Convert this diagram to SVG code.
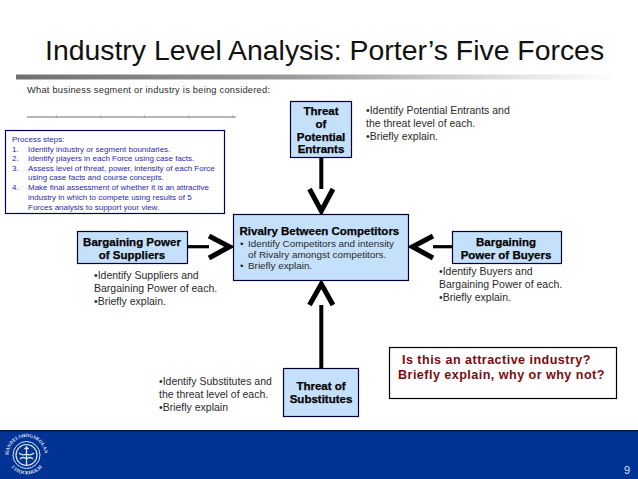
<svg xmlns="http://www.w3.org/2000/svg" xmlns:xlink="http://www.w3.org/1999/xlink" width="638" height="479" viewBox="0 0 638 479">
<style>
text{font-family:"Liberation Sans",Arial,sans-serif;fill:#2a2a2a}
.box{fill:#c4e0fb;stroke:#000033;stroke-width:1.2}
.hd{font-size:11.5px;font-weight:bold;text-anchor:middle;fill:#000;stroke:#000;stroke-width:.25}
.nt{font-size:10.5px}
.rv{font-size:9.9px}
.ps{font-size:8px;fill:#2a2ab0}
.shaft{fill:none;stroke:#000;stroke-width:4}
.shaft-h{fill:none;stroke:#000;stroke-width:3.2}
.head{fill:none;stroke:#000;stroke-width:5}
.q{font-size:12.6px;font-weight:bold;fill:#7a0c10;letter-spacing:.45px}
.lg{font-family:"Liberation Serif",serif;font-weight:bold;font-size:4.8px;fill:#e3e9f5}
</style>
<defs>
<linearGradient id="bar"><stop offset="0" stop-color="#707070"/><stop offset=".45" stop-color="#999"/><stop offset=".8" stop-color="#ddd"/><stop offset="1" stop-color="#fff"/></linearGradient>
<path id="arcTop" d="M8.500 455a18 18 0 0 1 36 0"/>
<path id="arcBot" d="M9 464a20 20 0 0 0 35 0"/>
</defs>
<rect width="638" height="479" fill="#fff"/>
<g id="header">
<text x="45" y="60" font-size="28.400" style="fill:#111">Industry Level Analysis: Porter’s Five Forces</text>
<rect x="16" y="74.500" width="600" height="5" fill="url(#bar)"/>
<text x="27" y="93" font-size="9.300" textLength="243">What business segment or industry is being considered:</text>
<path d="M27 117H236M56.500 115.500v2.500M100.500 115.500v2.500M144.500 115.500v2.500M188.500 115.500v2.500M232.500 115.500v2.500" stroke="#a0a0a0" stroke-width="1.300" fill="none"/>
</g>
<g id="process-steps">
<rect x="5.500" y="130.500" width="219" height="83" fill="#fff" stroke="#000066" stroke-width="1.200"/>
<text class="ps" x="12" y="142">Process steps:</text>
<text class="ps" x="12" y="151.500">1.</text><text class="ps" x="28" y="151.500">Identify industry or segment boundaries.</text>
<text class="ps" x="12" y="161">2.</text><text class="ps" x="28" y="161">Identify players in each Force using case facts.</text>
<text class="ps" x="12" y="170.500">3.</text><text class="ps" x="28" y="170.500">Assess level of threat, power, intensity of each Force</text>
<text class="ps" x="28" y="180">using case facts and course concepts.</text>
<text class="ps" x="12" y="189.500">4.</text><text class="ps" x="28" y="189.500">Make final assessment of whether it is an attractive</text>
<text class="ps" x="28" y="199.500">industry in which to compete using results of 5</text>
<text class="ps" x="28" y="209.500">Forces analysis to support your view.</text>
</g>
<g id="connectors">
<path class="shaft" d="M321.300 158V189"/><path class="head" d="M309.500 189L321.300 211L333 189"/>
<path class="shaft" d="M321.300 368V305"/><path class="head" d="M309.500 305L321.300 284L333 305"/>
<path class="shaft-h" d="M188 246.700H209"/><path class="head" d="M209 236L229.500 246.700L209 258"/>
<path class="shaft-h" d="M452 246.700H433"/><path class="head" d="M433 236L412.500 246.700L433 258"/>
</g>
<g id="threat-entrants">
<rect class="box" x="290.500" y="101.500" width="61" height="56"/>
<text class="hd" x="321" y="115">Threat</text><text class="hd" x="321" y="128">of</text><text class="hd" x="321" y="141">Potential</text><text class="hd" x="321" y="153">Entrants</text>
</g>
<g id="rivalry">
<rect class="box" x="233.500" y="214.500" width="175" height="66"/>
<text class="hd" x="239.500" y="235" style="text-anchor:start">Rivalry Between Competitors</text>
<text class="rv" x="240" y="246.500">•</text><text class="rv" x="248" y="246.500">Identify Competitors and intensity</text>
<text class="rv" x="248" y="258">of Rivalry amongst competitors.</text>
<text class="rv" x="240" y="269">•</text><text class="rv" x="248" y="269">Briefly explain.</text>
</g>
<g id="suppliers">
<rect class="box" x="77.500" y="231.500" width="110" height="32"/>
<text class="hd" x="132" y="245.500">Bargaining Power</text><text class="hd" x="132" y="259">of Suppliers</text>
</g>
<g id="buyers">
<rect class="box" x="452.500" y="231.500" width="109" height="32"/>
<text class="hd" x="506" y="245.500">Bargaining</text><text class="hd" x="506" y="259">Power of Buyers</text>
</g>
<g id="substitutes">
<rect class="box" x="283.500" y="368.500" width="75" height="48"/>
<text class="hd" x="321" y="390">Threat of</text><text class="hd" x="321" y="403">Substitutes</text>
</g>
<g id="notes">
<text class="nt" x="366" y="114">•Identify Potential Entrants and</text>
<text class="nt" x="366" y="127">the threat level of each.</text>
<text class="nt" x="366" y="140">•Briefly explain.</text>
<text class="nt" x="94" y="279">•Identify Suppliers and</text>
<text class="nt" x="94" y="292">Bargaining Power of each.</text>
<text class="nt" x="94" y="305">•Briefly explain.</text>
<text class="nt" x="439" y="275">•Identify Buyers and</text>
<text class="nt" x="439" y="288">Bargaining Power of each.</text>
<text class="nt" x="439" y="301">•Briefly explain.</text>
<text class="nt" x="159" y="385">•Identify Substitutes and</text>
<text class="nt" x="159" y="397.500">the threat level of each.</text>
<text class="nt" x="159" y="410.500">•Briefly explain</text>
</g>
<g id="question">
<rect x="389.500" y="347.500" width="227" height="51" fill="#fff" stroke="#000" stroke-width="1.200"/>
<text class="q" x="402" y="364">Is this an attractive industry?</text>
<text class="q" x="398" y="378.500">Briefly explain, why or why not?</text>
</g>
<g id="footer">
<rect x="0" y="430" width="638" height="49" fill="#003393"/>
<rect x="0" y="430" width="638" height="1.500" fill="#001a55"/>
<g fill="none" stroke="#dfe6f4">
<circle cx="26.500" cy="455" r="13.500" stroke-width="1"/>
<circle cx="26.500" cy="455" r="10.500" stroke-width="1.200"/>
<path d="M26.500 446V465M24.500 449a2.500 2.500 0 0 1 4 0M19 453q3.500 3 7.500 1q4 2 7.500-1M20 459q3-3 6.500 0q3.500-3 6.500 0" stroke-width="1.300"/>
</g>
<text class="lg" style="fill:#e3e9f5"><textPath xlink:href="#arcTop" href="#arcTop">HANDELSHÖGSKOLAN</textPath></text>
<text class="lg" style="fill:#e3e9f5"><textPath xlink:href="#arcBot" href="#arcBot" startOffset="4">I STOCKHOLM</textPath></text>
<text x="624" y="474" font-size="11" style="fill:#dbe4f3">9</text>
</g>
</svg>
